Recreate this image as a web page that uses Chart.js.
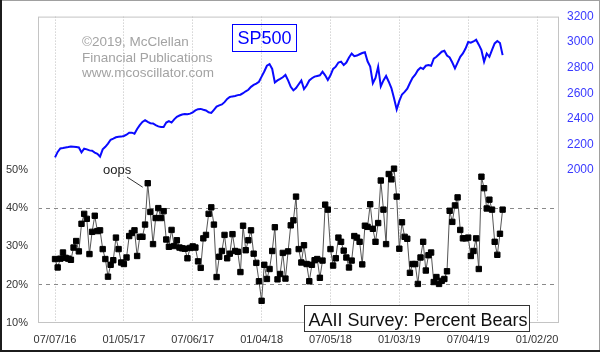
<!DOCTYPE html>
<html>
<head>
<meta charset="utf-8">
<script src="https://cdn.jsdelivr.net/npm/chart.js@4.4.1/dist/chart.umd.min.js"></script>
<style>
  html, body { margin: 0; padding: 0; background: #fff; }
  #wrap { position: relative; width: 600px; height: 352px; }
</style>
</head>
<body>
<div id="wrap"><canvas id="chart" width="600" height="352"></canvas></div>
<script>
// weekly readings, first one is 07/07/16, one every 7 days
const WEEK = 7;

// x axis: days after 07/07/16 and their labels
const tickDays = [0, 182, 364, 546, 728, 910, 1092, 1274];
const tickLabels = ["07/07/16", "01/05/17", "07/06/17", "01/04/18", "07/05/18", "01/03/19", "07/04/19", "01/02/20"];

const pctTicks = [10, 20, 30, 40, 50];
const spTicks = [2000, 2200, 2400, 2600, 2800, 3000, 3200];

// AAII percent bears
const bears = [
  26.7, 24.5, 26.8, 28.4, 27.0, 26.8, 26.5, 29.7, 31.4, 28.7,
  35.9, 38.5, 37.2, 28.0, 33.8, 38.0, 34.0, 34.2, 29.3, 26.7,
  22.1, 25.2, 26.4, 32.3, 29.3, 25.8, 25.4, 27.1, 32.7, 33.5,
  34.2, 27.5, 32.5, 32.5, 35.7, 46.5, 39.0, 30.6, 37.4, 40.0,
  37.4, 39.2, 31.8, 29.9, 34.3, 30.1, 31.6, 29.7, 29.5, 29.4,
  26.9, 29.6, 30.0, 29.7, 26.1, 24.4, 32.1, 33.0, 38.5, 40.2,
  35.7, 22.0, 27.3, 28.8, 33.0, 26.9, 28.1, 33.2, 28.8, 28.6,
  23.3, 35.4, 29.0, 31.6, 34.2, 28.1, 25.7, 20.9, 15.8, 25.2,
  21.5, 24.1, 28.8, 35.0, 21.4, 22.8, 28.3, 21.6, 28.7, 35.5,
  36.8, 43.0, 29.3, 25.8, 30.3, 25.4, 20.9, 25.2, 26.4, 26.7,
  21.8, 26.3, 40.9, 39.6, 29.3, 25.0, 26.9, 32.3, 31.2, 28.9,
  27.1, 24.5, 26.3, 32.7, 32.3, 31.2, 25.3, 35.4, 35.1, 41.0,
  34.6, 31.2, 36.1, 47.2, 39.6, 30.6, 48.9, 47.5, 50.3, 43.0,
  29.4, 36.3, 32.5, 32.0, 23.1, 25.4, 25.4, 20.2, 27.1, 31.2,
  23.7, 27.7, 28.4, 20.7, 22.0, 20.2, 21.0, 21.5, 23.5, 39.3,
  36.4, 40.7, 42.8, 34.3, 32.1, 32.1, 32.3, 27.5, 28.8, 32.1,
  24.1, 48.2, 45.2, 39.9, 42.2, 39.6, 31.2, 27.8, 33.3, 39.6
];

// SP500, same weeks
const sp500 = [
  2097, 2140, 2167, 2170, 2175, 2178, 2182, 2180, 2178, 2175,
  2136, 2165, 2160, 2152, 2149, 2135, 2125, 2103, 2160, 2180,
  2205, 2235, 2244, 2255, 2258, 2260, 2265, 2275, 2290, 2291,
  2283, 2320, 2350, 2375, 2389, 2375, 2365, 2363, 2350, 2340,
  2335, 2335, 2370, 2382, 2370, 2395, 2415, 2425, 2433, 2437,
  2435, 2440, 2450, 2465, 2475, 2477, 2470, 2465, 2450, 2446,
  2470, 2495, 2505, 2512, 2530, 2555, 2570, 2575, 2578, 2585,
  2588, 2600, 2615, 2627, 2650, 2665, 2675, 2690, 2730, 2770,
  2815, 2828, 2790, 2684, 2700, 2712, 2725, 2743, 2700, 2650,
  2622, 2640, 2670, 2699, 2632, 2660, 2700, 2717, 2730, 2735,
  2740, 2769, 2740, 2704, 2740, 2790, 2808, 2840, 2847, 2820,
  2840, 2880, 2911, 2890, 2895, 2905, 2915, 2921, 2850, 2808,
  2678, 2720, 2808, 2653, 2700, 2735, 2690, 2640, 2560, 2472,
  2540, 2590, 2610, 2635, 2680, 2720, 2745, 2780, 2800, 2790,
  2815, 2820, 2815, 2870, 2885, 2905, 2925, 2932, 2895, 2880,
  2840, 2795, 2840, 2885, 2911, 2950, 3001, 2995, 3005, 3019,
  2980, 2937, 2847, 2911, 2885, 2940, 2990, 3009, 2993, 2898
];

const OOPS_INDEX = 35;

const FONT = '"Liberation Sans", Arial, sans-serif';
Chart.defaults.font.family = FONT;

// texts, boxes and frames drawn on top
const decorations = {
  id: "decorations",
  beforeDraw(chart) {
    const ctx = chart.ctx;
    ctx.save();
    ctx.fillStyle = "#fff";
    ctx.fillRect(0, 0, chart.width, chart.height);
    ctx.restore();
  },
  afterDraw(chart) {
    const { ctx, chartArea: a } = chart;
    ctx.save();

    // plot frame
    ctx.strokeStyle = "#c4c4c4";
    ctx.lineWidth = 1;
    ctx.strokeRect(a.left + 0.5, a.top + 0.5, a.right - a.left - 1, a.bottom - a.top - 1);

    // copyright
    ctx.fillStyle = "#a3a3a3";
    ctx.font = "13.5px " + FONT;
    ctx.textBaseline = "alphabetic";
    ctx.textAlign = "left";
    ctx.fillText("\u00a92019, McClellan", 82, 45.7);
    ctx.fillText("Financial Publications", 82, 61.7);
    ctx.fillText("www.mcoscillator.com", 82, 77.3);

    // SP500 box
    ctx.strokeStyle = "#0000ff";
    ctx.strokeRect(232.5, 24.5, 64, 27);
    ctx.fillStyle = "#0000ff";
    ctx.font = "18px " + FONT;
    ctx.textAlign = "center";
    ctx.fillText("SP500", 264.5, 44);

    // oops note, pointing at the spike
    const xs = chart.scales.x, ys = chart.scales.y;
    const px = xs.getPixelForValue(OOPS_INDEX * WEEK);
    const py = ys.getPixelForValue(bears[OOPS_INDEX]);
    ctx.fillStyle = "#222";
    ctx.font = "13px " + FONT;
    ctx.textAlign = "left";
    ctx.fillText("oops", 103, 173.5);
    ctx.strokeStyle = "#333";
    ctx.beginPath();
    ctx.moveTo(127, 177);
    ctx.lineTo(px - 5, py + 4);
    ctx.stroke();

    // title box
    ctx.fillStyle = "#fff";
    ctx.fillRect(304, 305, 226, 27);
    ctx.strokeStyle = "#333";
    ctx.strokeRect(304.5, 305.5, 225, 26);
    ctx.fillStyle = "#111";
    ctx.font = "18px " + FONT;
    ctx.fillText("AAII Survey: Percent Bears", 308.5, 326);

    // outer frame
    ctx.fillStyle = "#a0a0a0";
    ctx.fillRect(0, 0, chart.width, 1);
    ctx.fillRect(chart.width - 1, 0, 1, chart.height);
    ctx.fillStyle = "#1c1c1c";
    ctx.fillRect(0, 0, 2, chart.height);
    ctx.fillRect(0, chart.height - 2, chart.width, 2);

    ctx.restore();
  }
};

const ctx = document.getElementById("chart").getContext("2d");

new Chart(ctx, {
  type: "line",
  data: {
    datasets: [
      {
        label: "SP500",
        data: sp500.map((v, i) => ({ x: i * WEEK, y: v })),
        yAxisID: "y1",
        borderColor: "#0a0aff",
        borderWidth: 2,
        pointRadius: 0,
        tension: 0
      },
      {
        label: "Percent Bears",
        data: bears.map((v, i) => ({ x: i * WEEK, y: v })),
        yAxisID: "y",
        borderColor: "#555",
        borderWidth: 1,
        pointStyle: "rect",
        pointRadius: 3.8,
        pointBorderWidth: 1,
        pointBackgroundColor: "#000",
        pointBorderColor: "#000",
        tension: 0
      }
    ]
  },
  options: {
    responsive: false,
    animation: false,
    devicePixelRatio: 1,
    layout: { padding: { top: 12, left: 0, right: 0, bottom: 0 } },
    plugins: {
      legend: { display: false },
      tooltip: { enabled: false }
    },
    scales: {
      x: {
        type: "linear",
        min: -45,
        max: 1332,
        afterBuildTicks: (s) => { s.ticks = tickDays.map(v => ({ value: v })); },
        afterFit: (s) => { s.height = 29; },
        ticks: {
          autoSkip: false,
          maxRotation: 0,
          padding: 10,
          color: "#333",
          font: { size: 11 },
          callback: (v) => tickLabels[tickDays.indexOf(v)] || ""
        },
        grid: { color: "#bdbdbd", drawTicks: false },
        border: { display: false, dash: [1, 2] }
      },
      y: {
        position: "left",
        min: 10,
        max: 90,
        afterBuildTicks: (s) => { s.ticks = pctTicks.map(v => ({ value: v })); },
        afterFit: (s) => { s.width = 38; },
        ticks: {
          padding: 10,
          color: "#333",
          font: { size: 11 },
          callback: (v) => v + "%"
        },
        grid: {
          drawTicks: false,
          color: (c) => (c.tick && (c.tick.value === 20 || c.tick.value === 40)) ? "#8a8a8a" : "transparent"
        },
        border: { display: false, dash: [4, 4] }
      },
      y1: {
        position: "right",
        min: 800,
        max: 3200,
        afterBuildTicks: (s) => { s.ticks = spTicks.map(v => ({ value: v })); },
        afterFit: (s) => { s.width = 41; },
        ticks: {
          padding: 8,
          color: "#3a3aff",
          font: { size: 12 },
          callback: (v) => String(v)
        },
        grid: { display: false, drawTicks: false },
        border: { display: false }
      }
    }
  },
  plugins: [decorations]
});
</script>
</body>
</html>
